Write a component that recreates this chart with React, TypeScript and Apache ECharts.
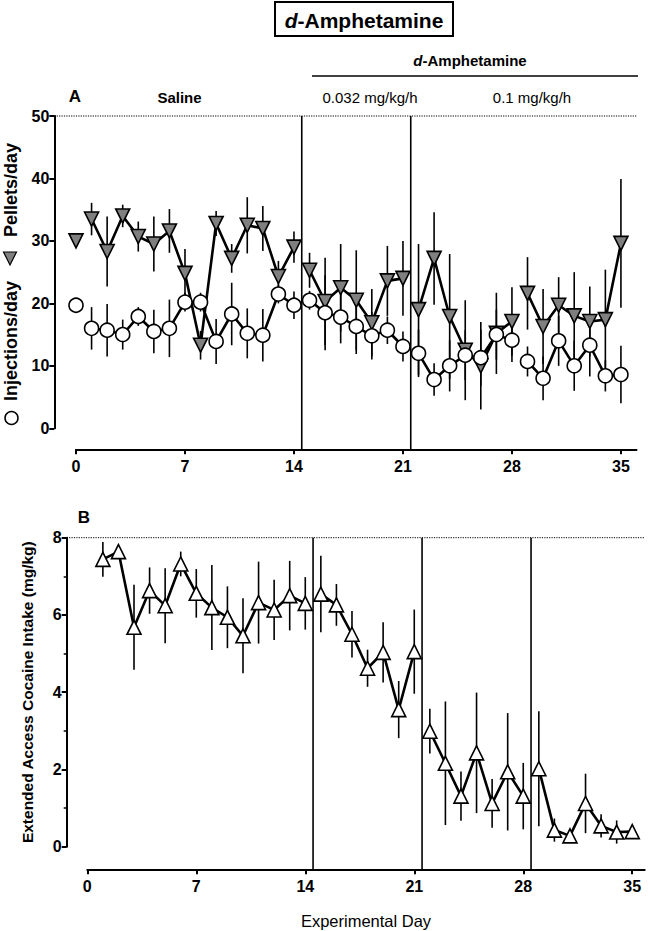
import React, { useEffect, useRef } from 'react';
import * as echarts from 'echarts';

const FONT = '"Liberation Sans", Arial, Helvetica, sans-serif';

// ---- data ----
const dayTicks = [0, 7, 14, 21, 28, 35];
const daysA = [0, 1, 2, 3, 4, 5, 6, 7, 8, 9, 10, 11, 12, 13, 14, 15, 16, 17, 18, 19, 20, 21, 22, 23, 24, 25, 26, 27, 28, 29, 30, 31, 32, 33, 34, 35];
const pellets = [30.0, 33.5, 28.3, 34.0, 30.7, 29.5, 31.6, 24.8, 13.3, 32.8, 27.2, 32.5, 32.0, 24.3, 29.0, 25.3, 20.3, 22.5, 20.5, 16.9, 23.6, 24.0, 19.0, 27.2, 17.9, 12.5, 10.0, 15.2, 17.1, 21.6, 16.3, 19.7, 18.0, 17.1, 17.4, 29.6];
const pelletsErr = [0, 2.6, 5.6, 1.8, 2.4, 4.4, 3.5, 3.9, 2.3, 2.0, 2.3, 4.5, 3.6, 2.5, 2.5, 2.8, 7.0, 7.0, 8.0, 5.4, 5.6, 6.0, 10.5, 7.4, 10.0, 8.0, 7.0, 6.5, 5.5, 5.8, 6.0, 4.5, 7.0, 5.6, 8.0, 10.3];
const injections = [19.7, 16.0, 15.7, 15.0, 17.9, 15.5, 16.0, 20.2, 20.2, 13.9, 18.3, 15.2, 14.9, 21.5, 19.7, 20.5, 18.5, 17.8, 16.3, 14.8, 15.7, 13.1, 12.0, 7.8, 10.0, 11.7, 11.3, 15.0, 14.1, 10.7, 8.0, 14.0, 10.0, 13.3, 8.4, 8.6];
const injectionsErr = [0, 3.4, 4.2, 2.4, 1.5, 3.5, 4.6, 1.5, 1.5, 3.6, 5.0, 4.0, 4.2, 1.5, 2.2, 1.5, 6.0, 4.2, 4.4, 3.8, 2.2, 2.4, 3.8, 2.6, 4.1, 4.0, 4.5, 4.0, 3.5, 2.4, 3.5, 4.0, 4.0, 5.0, 2.5, 4.6];
const daysB = [1, 2, 3, 4, 5, 6, 7, 8, 9, 10, 11, 12, 13, 14, 15, 16, 17, 18, 19, 20, 21, 22, 23, 24, 25, 26, 27, 28, 29, 30, 31, 32, 33, 34, 35];
const intake = [7.44, 7.64, 5.68, 6.63, 6.24, 7.32, 6.56, 6.19, 5.94, 5.46, 6.32, 6.13, 6.5, 6.3, 6.54, 6.26, 5.5, 4.62, 5.03, 3.55, 5.05, 2.99, 2.16, 1.31, 2.43, 1.12, 1.94, 1.31, 2.02, 0.43, 0.28, 1.12, 0.54, 0.38, 0.39];
const intakeErr = [0.45, 0.1, 1.1, 0.6, 0.97, 0.32, 0.63, 1.1, 0.8, 0.97, 1.06, 0.78, 0.9, 0.68, 0.99, 0.54, 0.6, 0.48, 0.78, 0.74, 1.09, 0.58, 1.6, 0.64, 1.56, 0.63, 1.52, 0.86, 1.49, 0.3, 0.05, 0.77, 0.3, 0.3, 0.05];
const phaseStarts = [0, 1, 15, 22, 29];
const refLinesA = [14.5, 21.5];
const refLinesB = [14.5, 21.5, 28.5];

function segments(days: number[], vals: number[]) {
  const groups: number[][][] = phaseStarts.map(() => []);
  days.forEach((d, i) => {
    let p = 0;
    phaseStarts.forEach((s, k) => { if (d >= s) p = k; });
    groups[p].push([d, vals[i]]);
  });
  return groups.filter((g) => g.length > 0);
}

export default function App() {
  const ref = useRef<HTMLDivElement>(null);
  useEffect(() => {
    document.body.style.margin = '0';
    const chart = echarts.init(ref.current!, null, { renderer: 'svg' });

    const X_OFF_A = 21, Y_OFF_A = 21.7, X_OFF_B = 22.6, Y_OFF_B = 20.6;
    const TICK_FS = 16;

    const xAxisBase = (grid: number, offset: number, max: number, extra: any = {}) => ({
      type: 'value', gridIndex: grid, min: 0, max, offset,
      axisLine: { show: true, onZero: false, lineStyle: { color: '#000', width: 2 } },
      axisTick: { show: true, customValues: dayTicks, length: 5, lineStyle: { color: '#000', width: 2 } },
      axisLabel: { customValues: dayTicks, margin: 9, color: '#000', fontFamily: FONT, fontWeight: 'bold', fontSize: TICK_FS },
      splitLine: { show: false },
      ...extra,
    });

    const vLines = (xi: number, yi: number, yMax: number, off: number, xs: number[]) => ({
      type: 'custom', xAxisIndex: xi, yAxisIndex: yi, clip: false, silent: true, z: 1,
      data: xs.map((x) => [x, yMax]),
      encode: { x: 0, y: 1 },
      renderItem: (_p: any, api: any) => {
        const a = api.coord([api.value(0), yMax]);
        const b = api.coord([api.value(0), 0]);
        return { type: 'line', shape: { x1: a[0], y1: a[1], x2: b[0], y2: b[1] + off }, style: { stroke: '#000', lineWidth: 1.6 } };
      },
    });

    const dotted = (xi: number, yi: number, yMax: number, xMax: number, off: number) => ({
      type: 'custom', xAxisIndex: xi, yAxisIndex: yi, clip: false, silent: true, z: 1,
      data: [[0, yMax]],
      encode: { x: 0, y: 1 },
      renderItem: (_p: any, api: any) => {
        const a = api.coord([0, yMax]);
        const b = api.coord([xMax, yMax]);
        return { type: 'line', shape: { x1: a[0] - off, y1: a[1], x2: b[0], y2: b[1] }, style: { stroke: '#000', lineWidth: 1, lineDash: [1.2, 1.2] } };
      },
    });

    const errBars = (xi: number, yi: number, days: number[], vals: number[], errs: number[]) => ({
      type: 'custom', xAxisIndex: xi, yAxisIndex: yi, clip: false, silent: true, z: 2,
      data: days.map((d, i) => [d, vals[i], errs[i]]).filter((r) => r[2] > 0),
      encode: { x: 0, y: 1 },
      renderItem: (_p: any, api: any) => {
        const x = api.value(0), y = api.value(1), e = api.value(2);
        const t = api.coord([x, y + e]);
        const b = api.coord([x, y - e]);
        return { type: 'line', shape: { x1: t[0], y1: t[1], x2: b[0], y2: b[1] }, style: { stroke: '#000', lineWidth: 1.6 } };
      },
    });

    const lineSeries = (xi: number, yi: number, data: number[][], symbol: string, rotate: number, fill: string, z: number) => ({
      type: 'line', xAxisIndex: xi, yAxisIndex: yi, data, symbol, symbolRotate: rotate, symbolSize: 14,
      showAllSymbol: true, silent: true, z,
      lineStyle: { color: '#000', width: 2.6 },
      itemStyle: { color: fill, borderColor: '#000', borderWidth: 1.6 },
    });

    const series: any[] = [
      vLines(0, 0, 50, X_OFF_A, refLinesA),
      dotted(0, 0, 50, 36, Y_OFF_A),
      vLines(1, 1, 8, X_OFF_B, refLinesB),
      dotted(1, 1, 8, 35.8, Y_OFF_B),
      errBars(0, 0, daysA, pellets, pelletsErr),
      errBars(0, 0, daysA, injections, injectionsErr),
      errBars(1, 1, daysB, intake, intakeErr),
    ];
    segments(daysA, pellets).forEach((s) => series.push(lineSeries(0, 0, s, 'triangle', 180, '#7f7f7f', 3)));
    segments(daysA, injections).forEach((s) => series.push(lineSeries(0, 0, s, 'circle', 0, '#fff', 4)));
    segments(daysB, intake).forEach((s) => series.push(lineSeries(1, 1, s, 'triangle', 0, '#fff', 3)));

    const bold = (size: number) => ({ fontFamily: FONT, fontWeight: 'bold', fontSize: size, fill: '#000' });

    chart.setOption({
      animation: false,
      grid: [
        { left: 76, top: 116, width: 560.5, height: 312.3, outerBoundsMode: 'none' },
        { left: 87.3, top: 537.7, width: 557.4, height: 309, outerBoundsMode: 'none' },
      ],
      xAxis: [
        xAxisBase(0, X_OFF_A, 36),
        xAxisBase(1, X_OFF_B, 35.8, {
          name: 'Experimental Day', nameLocation: 'middle', nameGap: 43,
          nameTextStyle: { fontFamily: FONT, fontSize: 16.5, color: '#000' },
        }),
      ],
      yAxis: [
        {
          type: 'value', gridIndex: 0, min: 0, max: 50, interval: 10, offset: Y_OFF_A,
          axisLine: { show: true, onZero: false, lineStyle: { color: '#000', width: 2 } },
          axisTick: { show: true, length: 5, lineStyle: { color: '#000', width: 2 } },
          axisLabel: { margin: 5, color: '#000', fontFamily: FONT, fontWeight: 'bold', fontSize: TICK_FS },
          splitLine: { show: false },
        },
        {
          type: 'value', gridIndex: 1, min: 0, max: 8, interval: 2, offset: Y_OFF_B,
          axisLine: { show: true, onZero: false, lineStyle: { color: '#000', width: 2 } },
          axisTick: { show: true, length: 5, lineStyle: { color: '#000', width: 2 } },
          minorTick: { show: true, splitNumber: 2, length: 3, lineStyle: { color: '#000', width: 1.5 } },
          axisLabel: { margin: 5, color: '#000', fontFamily: FONT, fontWeight: 'bold', fontSize: TICK_FS },
          splitLine: { show: false },
          name: 'Extended Access Cocaine Intake (mg/kg)', nameLocation: 'middle', nameGap: 31,
          nameTextStyle: { fontFamily: FONT, fontWeight: 'bold', fontSize: 15.5, color: '#000' },
        },
      ],
      graphic: [
        { type: 'rect', shape: { x: 275, y: 2, width: 178, height: 34 }, style: { fill: 'none', stroke: '#000', lineWidth: 2 } },
        {
          type: 'text', x: 364, y: 20,
          style: {
            text: '{i|d}{b|-Amphetamine}', align: 'center', verticalAlign: 'middle',
            rich: {
              i: { fontFamily: FONT, fontWeight: 'bold', fontStyle: 'italic', fontSize: 21, fill: '#000' },
              b: { fontFamily: FONT, fontWeight: 'bold', fontSize: 21, fill: '#000' },
            },
          },
        },
        {
          type: 'text', x: 470, y: 60,
          style: {
            text: '{i|d}{b|-Amphetamine}', align: 'center', verticalAlign: 'middle',
            rich: {
              i: { fontFamily: FONT, fontWeight: 'bold', fontStyle: 'italic', fontSize: 15, fill: '#000' },
              b: { fontFamily: FONT, fontWeight: 'bold', fontSize: 15, fill: '#000' },
            },
          },
        },
        { type: 'line', shape: { x1: 312, y1: 76, x2: 638, y2: 76 }, style: { stroke: '#000', lineWidth: 1.6 } },
        { type: 'text', x: 370, y: 97, style: { text: '0.032 mg/kg/h', fontFamily: FONT, fontSize: 15, fill: '#000', align: 'center', verticalAlign: 'middle' } },
        { type: 'text', x: 532, y: 97, style: { text: '0.1 mg/kg/h', fontFamily: FONT, fontSize: 15, fill: '#000', align: 'center', verticalAlign: 'middle' } },
        { type: 'text', x: 75, y: 96, style: { text: 'A', ...bold(17), align: 'center', verticalAlign: 'middle' } },
        { type: 'text', x: 179.5, y: 97, style: { text: 'Saline', ...bold(15), align: 'center', verticalAlign: 'middle' } },
        { type: 'text', x: 84, y: 517, style: { text: 'B', ...bold(17), align: 'center', verticalAlign: 'middle' } },
        { type: 'text', x: 11, y: 190, rotation: Math.PI / 2, style: { text: 'Pellets/day', ...bold(18), align: 'center', verticalAlign: 'middle' } },
        { type: 'polygon', shape: { points: [[3.5, 252], [16.5, 252], [10, 265]] }, style: { fill: '#7f7f7f', stroke: '#000', lineWidth: 1.2 } },
        { type: 'text', x: 11, y: 341, rotation: Math.PI / 2, style: { text: 'Injections/day', ...bold(18), align: 'center', verticalAlign: 'middle' } },
        { type: 'circle', shape: { cx: 11.5, cy: 418, r: 6.5 }, style: { fill: '#fff', stroke: '#000', lineWidth: 1.5 } },
      ],
      series,
    });
    return () => chart.dispose();
  }, []);
  return <div ref={ref} style={{ width: 650, height: 931 }} />;
}
